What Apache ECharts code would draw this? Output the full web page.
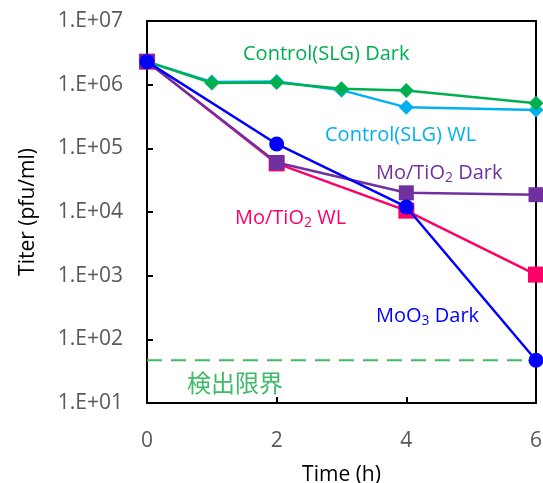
<!DOCTYPE html>
<html><head><meta charset="utf-8">
<script src="https://cdn.jsdelivr.net/npm/echarts@6/dist/echarts.min.js"></script>
<style>html,body{margin:0;padding:0;background:#fff}#c{width:543px;height:483px}</style>
</head><body><div id="c"></div>
<script>
const ctrlDarkX = [0, 1, 2, 3, 4, 6];
const ctrlDarkY = [2.3e6, 1.06e6, 1.08e6, 8.6e5, 8.1e5, 5.1e5];
const ctrlWLX = [0, 1, 2, 3, 4, 6];
const ctrlWLY = [2.3e6, 1.1e6, 1.12e6, 8.2e5, 4.4e5, 4.0e5];
const moTiDarkX = [0, 2, 4, 6];
const moTiDarkY = [2.3e6, 6.0e4, 2.0e4, 1.87e4];
const moTiWLX = [0, 2, 4, 6];
const moTiWLY = [2.3e6, 5.8e4, 1.05e4, 1.04e3];
const moO3X = [0, 2, 4, 6];
const moO3Y = [2.3e6, 1.17e5, 1.2e4, 47];
const limitX = [0, 6];
const limitY = [47, 47];
const xTicks = [0, 2, 4, 6];
const yTickLabels = ['1.E+01','1.E+02','1.E+03','1.E+04','1.E+05','1.E+06','1.E+07'];

const zip = (xs, ys) => xs.map((x, i) => [x, ys[i]]);
const FONT = '"Open Sans", "Noto Sans CJK JP", sans-serif';
const FS = 20;
const TFS = 21;

function ser(name, xs, ys, color, symbol, size, z) {
  return {
    name, type: 'line', data: zip(xs, ys), z,
    symbol, symbolSize: size,
    lineStyle: { color, width: 2.5 },
    itemStyle: { color },
    animation: false
  };
}
function sub(main1, s, main2, color) {
  return {
    text: '{a|' + main1 + '}{s|' + s + '}{a|' + main2 + '}',
    verticalAlign: 'middle',
    rich: {
      a: { fill: color, fontSize: FS, fontFamily: FONT, lineHeight: 26 },
      s: { fill: color, fontSize: 14, fontFamily: FONT, lineHeight: 26, padding: [10, 0, 0, 0] }
    }
  };
}

const chart = echarts.init(document.getElementById('c'));
chart.setOption({
  animation: false,
  grid: { left: 147, right: 7, top: 21, bottom: 80, show: true, borderColor: '#000', borderWidth: 2,
          backgroundColor: 'transparent', containLabel: false, outerBoundsMode: 'none' },
  xAxis: {
    type: 'value', min: 0, max: 6, interval: 2,
    axisLine: { lineStyle: { color: '#000', width: 2 } },
    axisTick: { inside: true, length: 6, lineStyle: { color: '#000', width: 2 } },
    splitLine: { show: false },
    axisLabel: { color: '#595959', fontSize: TFS, fontFamily: FONT, margin: 28 },
    name: 'Time (h)', nameLocation: 'middle', nameGap: 62,
    nameTextStyle: { color: '#000', fontSize: TFS, fontFamily: FONT }
  },
  yAxis: {
    type: 'log', logBase: 10, min: 10, max: 1e7,
    axisLine: { lineStyle: { color: '#000', width: 2 } },
    axisTick: { inside: true, length: 6, lineStyle: { color: '#000', width: 2 } },
    splitLine: { show: false },
    axisLabel: {
      color: '#595959', fontSize: TFS, fontFamily: FONT, margin: 24,
      formatter: v => yTickLabels[Math.round(Math.log10(v)) - 1]
    },
    name: 'Titer (pfu/ml)', nameLocation: 'middle', nameGap: 108, nameRotate: 90,
    nameTextStyle: { color: '#000', fontSize: TFS, fontFamily: FONT }
  },
  series: [
    { name: 'limit', type: 'line', data: zip(limitX, limitY), symbol: 'none', z: 1,
      lineStyle: { color: '#3DBB66', width: 2, type: [15, 9] } },
    ser('Control(SLG) WL', ctrlWLX, ctrlWLY, '#00B0F0', 'diamond', 15, 2),
    ser('Control(SLG) Dark', ctrlDarkX, ctrlDarkY, '#00B050', 'diamond', 15, 3),
    ser('Mo/TiO2 WL', moTiWLX, moTiWLY, '#FF0066', 'rect', 16, 4),
    ser('Mo/TiO2 Dark', moTiDarkX, moTiDarkY, '#7030A0', 'rect', 15, 5),
    ser('MoO3 Dark', moO3X, moO3Y, '#0000FF', 'circle', 15, 6)
  ],
  graphic: [
    { type: 'text', x: 243, y: 54, style: { text: 'Control(SLG) Dark', fill: '#00B050', font: FS + 'px ' + FONT, verticalAlign: 'middle' } },
    { type: 'text', x: 325, y: 135, style: { text: 'Control(SLG) WL', fill: '#00B0F0', font: FS + 'px ' + FONT, verticalAlign: 'middle' } },
    { type: 'text', x: 376, y: 173, style: sub('Mo/TiO', '2', ' Dark', '#7030A0') },
    { type: 'text', x: 235, y: 218, style: sub('Mo/TiO', '2', ' WL', '#FF0066') },
    { type: 'text', x: 376, y: 316, style: sub('MoO', '3', ' Dark', '#0000FF') },
    { type: 'text', x: 187, y: 383, style: { text: '検出限界', fill: '#3DBB66', font: '24px "Noto Sans CJK JP", sans-serif', verticalAlign: 'middle' } }
  ]
});
</script></body></html>
